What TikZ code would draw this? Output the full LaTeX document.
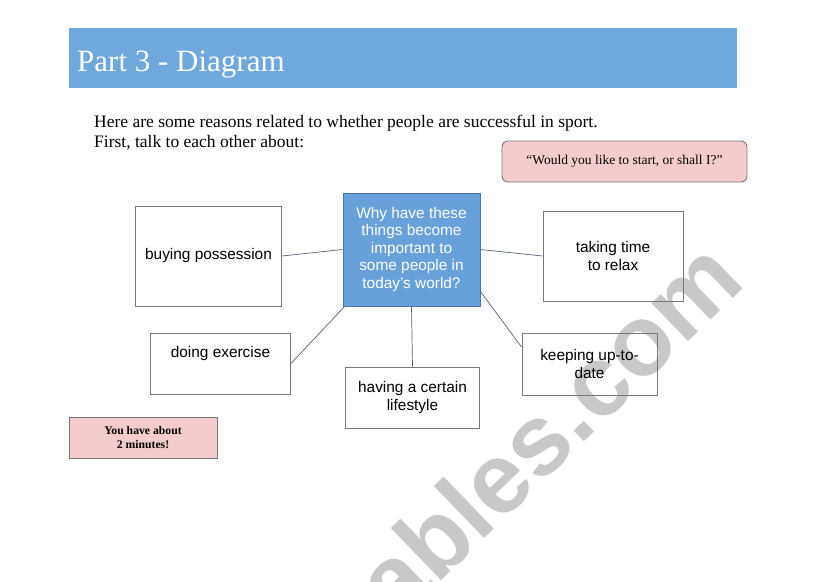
\documentclass[tikz,border=0pt]{standalone}
\usepackage{fontspec}
\setmainfont{Liberation Serif}
\setsansfont{Liberation Sans}
\definecolor{barblue}{RGB}{111,168,220}
\definecolor{midblue}{RGB}{104,160,218}
\definecolor{midedge}{RGB}{70,118,172}
\definecolor{pinkfill}{RGB}{244,204,204}
\definecolor{boxgray}{RGB}{120,120,120}
\definecolor{linecol}{RGB}{85,98,120}
\definecolor{wmgray}{RGB}{200,200,200}
\begin{document}
\begin{tikzpicture}[x=1pt,y=-1pt,
  idea/.style={draw=boxgray, line width=0.9pt, inner sep=0pt, align=center,
    font=\sffamily\fontsize{15.4}{17.5}\selectfont},
  hub/.style={idea, fill=midblue, draw=midedge, text=white},
  pinkbox/.style={draw=boxgray, line width=0.9pt, fill=pinkfill, inner sep=0pt, align=center},
  link/.style={draw=linecol, line width=0.7pt}]
\useasboundingbox (0,0) rectangle (821,581);
% watermark
\node[anchor=base east, rotate=44, text=wmgray, inner sep=0pt,
  font=\sffamily\bfseries\fontsize{100}{100}\selectfont] (wm) at (748,284.5) {eslprintables.com};
% header
\node[fill=barblue, minimum width=668pt, minimum height=60pt, inner sep=0pt] (bar) at (403,58) {};
\node[anchor=base west, text=white, inner sep=0pt, font=\fontsize{31}{31}\selectfont] (title) at (77,71) {Part 3 - Diagram};
% intro
\node[anchor=base west, inner sep=0pt, font=\fontsize{17.5}{20}\selectfont] (intro1) at (94,127) {Here are some reasons related to whether people are successful in sport.};
\node[anchor=base west, inner sep=0pt, font=\fontsize{17.5}{20}\selectfont] (intro2) at (94,147) {First, talk to each other about:};
% pink boxes
\node[pinkbox, rounded corners=6pt, minimum width=245pt, minimum height=41pt,
  font=\fontsize{13.5}{16}\selectfont] (quote) at (624.5,161.5) {“Would you like to start, or shall I?”};
\node[pinkbox, minimum width=148pt, minimum height=41pt,
  font=\bfseries\fontsize{11.7}{14}\selectfont] (time) at (143,437.5) {You have about\\2 minutes!};
% hub and ideas
\node[hub, minimum width=137pt, minimum height=113pt] (hub) at (411.5,249.5)
  {Why have these\\things become\\important to\\some people in\\today’s world?};
\node[idea, minimum width=146pt, minimum height=100pt] (buy) at (208.5,256) {buying possession};
\node[idea, minimum width=140pt, minimum height=90pt] (relax) at (613,256) {taking time\\to relax};
\node[idea, minimum width=140pt, minimum height=61pt] (exer) at (220.5,363.5) {doing exercise\\[6pt]~};
\node[idea, minimum width=134pt, minimum height=61pt] (life) at (412.5,397.5) {having a certain\\lifestyle};
\node[idea, minimum width=135pt, minimum height=62pt] (keep) at (589.5,364) {keeping up-to-\\date};
% connectors
\draw[link] (buy.east) -- (hub.west);
\draw[link] (hub.east) -- (relax.west);
\draw[link] ([xshift=2pt]hub.south west) -- (exer.east);
\draw[link] (hub.south) -- (life.north);
\draw[link] ([yshift=15pt]hub.south east) -- ([yshift=17pt]keep.west);
\end{tikzpicture}
\end{document}
